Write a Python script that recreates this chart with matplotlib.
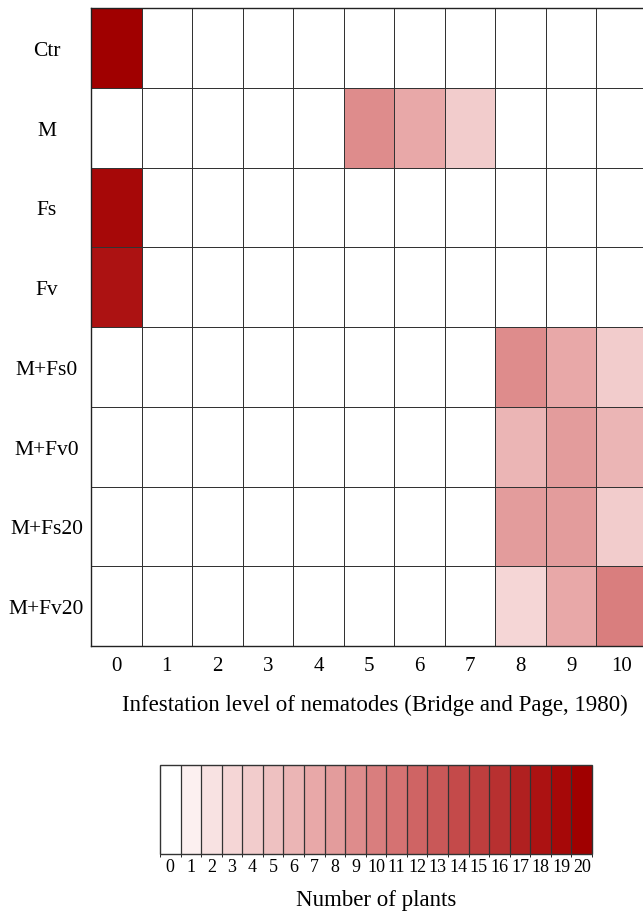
import matplotlib
matplotlib.use("Agg")
import matplotlib.pyplot as plt
from matplotlib.colors import ListedColormap, BoundaryNorm
from matplotlib.cm import ScalarMappable
import numpy as np

plt.rcParams['font.family'] = ['Liberation Serif', 'DejaVu Serif']

treatments = ['Ctr', 'M', 'Fs', 'Fv', 'M+Fs0', 'M+Fv0', 'M+Fs20', 'M+Fv20']
levels = list(range(11))

# number of plants per infestation level (rows = treatments)
ctr = [20, 0, 0, 0, 0, 0, 0, 0, 0, 0, 0]
m = [0, 0, 0, 0, 0, 9, 7, 4, 0, 0, 0]
fs = [19, 0, 0, 0, 0, 0, 0, 0, 0, 0, 0]
fv = [18, 0, 0, 0, 0, 0, 0, 0, 0, 0, 0]
m_fs0 = [0, 0, 0, 0, 0, 0, 0, 0, 9, 7, 4]
m_fv0 = [0, 0, 0, 0, 0, 0, 0, 0, 6, 8, 6]
m_fs20 = [0, 0, 0, 0, 0, 0, 0, 0, 8, 8, 4]
m_fv20 = [0, 0, 0, 0, 0, 0, 0, 0, 3, 7, 10]

counts = np.array([ctr, m, fs, fv, m_fs0, m_fv0, m_fs20, m_fv20])
cbar_ticks = list(range(21))

palette = ['#ffffff', '#fcf0f0', '#f8e2e2', '#f5d6d6', '#f2cccc', '#eec1c1',
           '#ebb5b5', '#e8a8a8', '#e39c9c', '#de8c8c', '#d97e7e', '#d57272',
           '#cf6464', '#c95858', '#c44a4a', '#be3e3e', '#b83030', '#b02020',
           '#ac1212', '#a60808', '#a00000']
cmap = ListedColormap(palette)
norm = BoundaryNorm(np.arange(-0.5, 21.5, 1), cmap.N)

W, H = 643, 912
fig = plt.figure(figsize=(W / 100, H / 100), dpi=100)

ax = fig.add_axes([91 / W, 1 - 647 / H, 556 / W, 638 / H])
ax.pcolormesh(counts, cmap=cmap, norm=norm, edgecolors='#333333', linewidth=0.7)
ax.set_xlim(0, len(levels))
ax.set_ylim(len(treatments), 0)
ax.set_xticks(np.arange(len(levels)) + 0.5)
ax.set_xticklabels([str(v) for v in levels], fontsize=15)
ax.set_yticks(np.arange(len(treatments)) + 0.5)
ax.set_yticklabels(treatments, fontsize=15.5)
for lab in ax.get_yticklabels():
    lab.set_ha('center')
ax.tick_params(axis='x', length=0, pad=7)
ax.tick_params(axis='y', length=0, pad=32)
for s in ax.spines.values():
    s.set_color('#222222')
    s.set_linewidth(1.0)
ax.set_xlabel('Infestation level of nematodes (Bridge and Page, 1980)', fontsize=16.5, labelpad=14)
ax.xaxis.set_label_coords(0.51, -0.075)

cax = fig.add_axes([160 / W, 1 - 855 / H, 432 / W, 89 / H])
cb = fig.colorbar(ScalarMappable(norm=norm, cmap=cmap), cax=cax, orientation='horizontal',
                  drawedges=True, ticks=cbar_ticks)
cb.ax.set_xticklabels([str(t) for t in cbar_ticks], fontsize=13)
cb.ax.tick_params(length=0, pad=3)
cb.dividers.set_color('#333333')
cb.dividers.set_linewidth(0.9)
cb.outline.set_edgecolor('#333333')
cb.outline.set_linewidth(1.0)
cb.set_label('Number of plants', fontsize=16.5, labelpad=10)

fig.savefig('out.png', dpi=100)
